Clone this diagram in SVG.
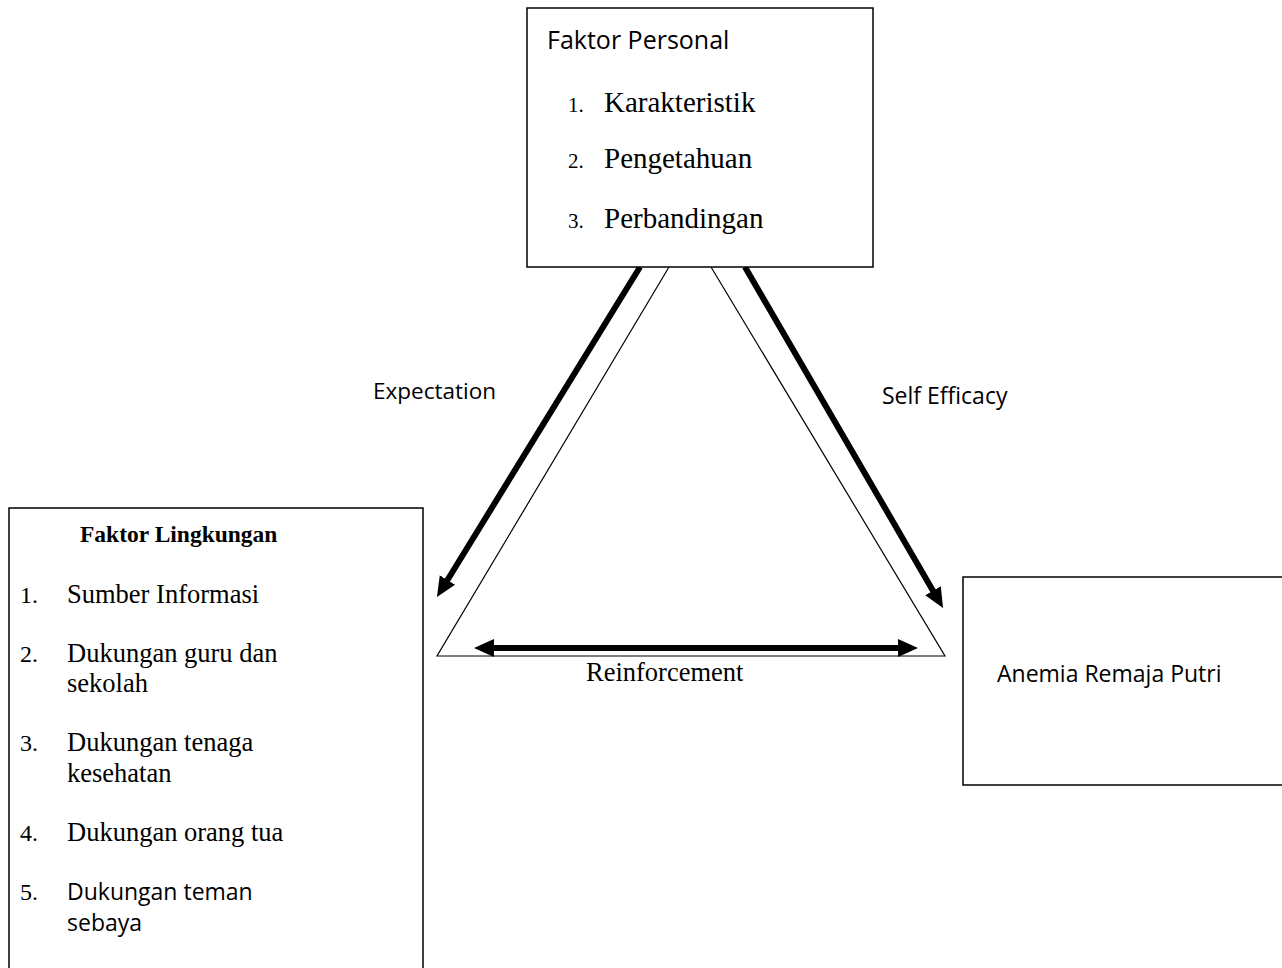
<svg xmlns="http://www.w3.org/2000/svg" width="1282" height="968" viewBox="0 0 1282 968">
<defs>
<style>
.box{fill:#fff;stroke:#000;stroke-width:1.5}
.sans{font-family:"Open Sans","Liberation Sans",sans-serif;fill:#000}
.serif{font-family:"Liberation Serif","Times New Roman",serif;fill:#000}
.thick{stroke:#000;stroke-width:6;fill:none}
.thin{stroke:#000;stroke-width:1.2;fill:none}
</style>
<marker id="ah" markerUnits="userSpaceOnUse" markerWidth="24" markerHeight="20" refX="2" refY="9" orient="auto-start-reverse">
<path d="M0,0 L20,9 L0,18 z" fill="#000"/>
</marker>
</defs>
<rect width="1282" height="968" fill="#fff"/>

<g id="connectors">
<polyline class="thin" points="669,267 437,656 945,656 711,267"/>
<line class="thick" x1="640" y1="267" x2="446.4" y2="581.7" marker-end="url(#ah)"/>
<line class="thick" x1="745" y1="267" x2="934" y2="592.4" marker-end="url(#ah)"/>
<line class="thick" x1="492" y1="648" x2="900" y2="648" stroke-width="5" marker-start="url(#ah)" marker-end="url(#ah)"/>
<text class="sans" x="373" y="399" font-size="22.5">Expectation</text>
<text class="sans" x="882" y="404" font-size="23">Self Efficacy</text>
<text class="serif" x="586" y="681" font-size="26.5">Reinforcement</text>
</g>

<g id="faktor-personal">
<rect class="box" x="527" y="8" width="346" height="259"/>
<text class="sans" x="547" y="49" font-size="25">Faktor Personal</text>
<text class="serif" x="568" y="112" font-size="21">1.</text>
<text class="serif" x="604" y="112" font-size="29">Karakteristik</text>
<text class="serif" x="568" y="168" font-size="21">2.</text>
<text class="serif" x="604" y="168" font-size="29">Pengetahuan</text>
<text class="serif" x="568" y="228" font-size="21">3.</text>
<text class="serif" x="604" y="228" font-size="29">Perbandingan</text>
</g>

<g id="faktor-lingkungan">
<rect class="box" x="9" y="508" width="414" height="470"/>
<text class="serif" x="80" y="542" font-size="23.5" font-weight="bold">Faktor Lingkungan</text>
<text class="serif" x="20" y="603" font-size="24">1.</text>
<text class="serif" x="67" y="603" font-size="26.5">Sumber Informasi</text>
<text class="serif" x="20" y="662" font-size="24">2.</text>
<text class="serif" x="67" y="662" font-size="26.5">Dukungan guru dan</text>
<text class="serif" x="67" y="692" font-size="26.5">sekolah</text>
<text class="serif" x="20" y="751" font-size="24">3.</text>
<text class="serif" x="67" y="751" font-size="26.5">Dukungan tenaga</text>
<text class="serif" x="67" y="782" font-size="26.5">kesehatan</text>
<text class="serif" x="20" y="841" font-size="24">4.</text>
<text class="serif" x="67" y="841" font-size="26.5">Dukungan orang tua</text>
<text class="serif" x="20" y="900" font-size="24">5.</text>
<text class="sans" x="67" y="900" font-size="23">Dukungan teman</text>
<text class="sans" x="67" y="931" font-size="23">sebaya</text>
</g>

<g id="anemia">
<rect class="box" x="963" y="577" width="330" height="208"/>
<text class="sans" x="997" y="682" font-size="23">Anemia Remaja Putri</text>
</g>
</svg>
